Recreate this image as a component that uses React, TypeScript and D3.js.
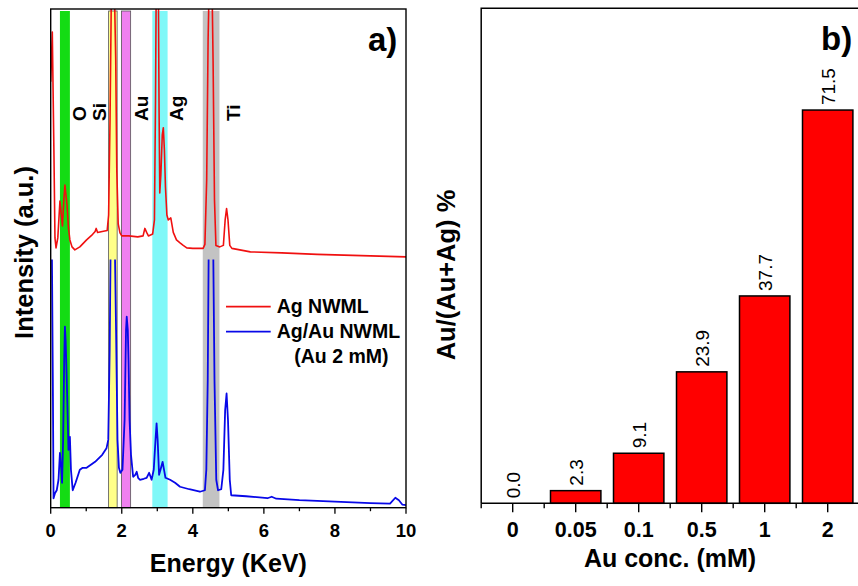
import React from "react";
import * as d3 from "d3";

// ---------- Panel a) EDS spectra (energy keV, intensity a.u.) ----------
const agSpectrum: [number, number][] = [
  [0.0, 85.4], [0.045, 95.4], [0.09, 71.7], [0.12, 54.1], [0.15, 52.1], [0.2, 54.1],
  [0.26, 61.5], [0.3, 58.7], [0.33, 56.5], [0.37, 61.7], [0.4, 64.7], [0.43, 62.7],
  [0.46, 60.7], [0.5, 56.1], [0.54, 53.7], [0.6, 52.3], [0.68, 51.7], [0.82, 52.3],
  [1.01, 53.7], [1.15, 54.6], [1.25, 55.4], [1.28, 56.0], [1.32, 55.2], [1.45, 55.4],
  [1.59, 55.6], [1.63, 58.7], [1.67, 77.7], [1.71, 105], [1.79, 105], [1.83, 89.8],
  [1.86, 67.7], [1.9, 56.9], [1.95, 55.1], [2.0, 54.5], [2.2, 54.5], [2.45, 54.3],
  [2.6, 54.5], [2.65, 56.0], [2.7, 55.2], [2.75, 54.5], [2.87, 54.9], [2.92, 57.7],
  [2.95, 81.7], [2.97, 105], [3.03, 105], [3.05, 79.7], [3.07, 63.1], [3.1, 66.7],
  [3.14, 74.7], [3.17, 76.2], [3.2, 71.7], [3.23, 64.3], [3.27, 58.7], [3.31, 57.7],
  [3.38, 58.1], [3.45, 55.2], [3.54, 53.7], [3.64, 53.1], [3.73, 52.6], [3.83, 52.1],
  [4.0, 52.0], [4.29, 52.0], [4.34, 52.8], [4.39, 65.7], [4.43, 93.8], [4.46, 105],
  [4.54, 105], [4.57, 89.8], [4.61, 61.7], [4.65, 52.6], [4.76, 52.3], [4.86, 52.6],
  [4.91, 57.7], [4.95, 60.0], [4.99, 57.7], [5.04, 52.6], [5.1, 52.0], [5.62, 51.3],
  [6.5, 51.1], [7.5, 50.8], [8.5, 50.6], [10.0, 50.3],
];

const agAuSpectrum: [number, number][] = [
  [0.0, 55], [0.03, 55], [0.06, 25.6], [0.08, 1.9], [0.12, 2.9], [0.17, 3.5],
  [0.22, 5.6], [0.26, 11.0], [0.3, 7.6], [0.32, 5.0], [0.35, 13.6], [0.38, 29.6],
  [0.4, 36.3], [0.42, 33.6], [0.45, 26.3], [0.48, 17.6], [0.5, 11.6], [0.52, 13.6],
  [0.54, 14.2], [0.57, 7.6], [0.62, 3.5], [0.7, 5.0], [0.82, 7.6], [0.9, 8.0],
  [1.01, 8.0], [1.25, 9.2], [1.45, 10.6], [1.57, 11.9], [1.62, 13.6], [1.66, 31.6],
  [1.69, 55], [1.8, 55], [1.84, 35.6], [1.88, 13.6], [1.92, 8.0], [1.96, 7.0],
  [2.02, 7.6], [2.08, 17.6], [2.12, 35.6], [2.14, 38.3], [2.17, 35.6], [2.19, 29.6],
  [2.22, 17.6], [2.26, 10.6], [2.32, 6.2], [2.38, 6.6], [2.42, 7.2], [2.46, 6.0],
  [2.51, 5.6], [2.62, 5.8], [2.7, 6.0], [2.77, 7.0], [2.84, 5.6], [2.9, 7.6],
  [2.95, 13.6], [2.98, 16.9], [3.01, 13.6], [3.05, 6.6], [3.09, 7.6], [3.15, 9.2],
  [3.19, 7.6], [3.23, 6.0], [3.36, 5.6], [3.5, 5.0], [3.64, 4.2], [3.9, 3.7],
  [4.2, 3.2], [4.34, 3.5], [4.38, 7.6], [4.42, 25.6], [4.45, 55], [4.57, 55],
  [4.61, 25.6], [4.66, 5.6], [4.71, 3.5], [4.8, 3.7], [4.86, 7.6], [4.91, 19.6],
  [4.95, 22.9], [4.99, 17.6], [5.04, 5.6], [5.08, 2.5], [5.5, 2.3], [6.1, 1.9],
  [6.22, 2.2], [6.35, 1.8], [7.0, 1.5], [8.0, 1.2], [9.0, 0.9], [9.55, 0.8],
  [9.7, 2.0], [9.8, 1.5], [9.9, 0.6], [10.0, 0.5],
];

const bandNames = ["O", "Si", "Au", "Ag", "Ti"];
const bandStart = [0.26, 1.63, 1.99, 2.86, 4.28];
const bandEnd = [0.54, 1.87, 2.25, 3.29, 4.75];
const bandColors = ["#14dc14", "#ffff88", "#f080f0", "#80f8f8", "#c3c3c3"];
const bandOutlined = [false, true, true, false, false];

const elementLabels = ["O", "Si", "Au", "Ag", "Ti"];
// energy at which each rotated label's baseline sits
const elementLabelEnergy = [0.993, 1.556, 2.745, 3.736, 5.325];

const legendLabels = ["Ag NWML", "Ag/Au NWML"];

// ---------- Panel b) bar chart ----------
const concCategories = ["0", "0.05", "0.1", "0.5", "1", "2"];
const auFraction = [0.0, 2.3, 9.1, 23.9, 37.7, 71.5];

const FONT = "'Liberation Sans', Arial, Helvetica, sans-serif";
const RED = "#f01010";
const BLUE = "#0808e8";

export default function App() {
  // panel a scales
  const xE = d3.scaleLinear().domain([0, 10]).range([50.7, 406]);
  const yI = d3.scaleLinear().domain([0, 100]).range([507.7, 9]);
  const line = d3
    .line<[number, number]>()
    .x((d) => xE(d[0]))
    .y((d) => yI(d[1]));
  const ticksE = d3.range(0, 11, 1);

  // panel b scales
  const xB = d3
    .scaleBand<string>()
    .domain(concCategories)
    .range([481.2, 859.2])
    .paddingInner(0.2)
    .paddingOuter(0.1);
  const yB = d3.scaleLinear().domain([0, 90]).range([503.3, 8.3]);
  const step = xB.step();
  const x0B = 481.2;

  const aTop = yI(100);
  const aBot = yI(0);
  const aL = xE(0);
  const aR = xE(10);
  const blueClipTop = 259.5;

  return (
    <svg
      width={858}
      height={586}
      viewBox="0 0 858 586"
      style={{ position: "absolute", left: 0, top: 0, display: "block", background: "#fff" }}
      fontFamily={FONT}
    >
      <defs>
        <clipPath id="clipA">
          <rect x={aL} y={aTop} width={aR - aL} height={aBot - aTop} />
        </clipPath>
        <clipPath id="clipBlue">
          <rect x={aL} y={blueClipTop} width={aR - aL} height={aBot - blueClipTop} />
        </clipPath>
      </defs>

      {/* ---------- Panel a ---------- */}
      {bandNames.map((n, i) => (
        <rect
          key={n}
          x={xE(bandStart[i])}
          y={11}
          width={xE(bandEnd[i]) - xE(bandStart[i])}
          height={aBot - 11}
          fill={bandColors[i]}
          stroke={bandOutlined[i] ? "#555" : "none"}
          strokeWidth={0.8}
        />
      ))}

      <path
        d={line(agSpectrum) || ""}
        fill="none"
        stroke={RED}
        strokeWidth={1.6}
        strokeLinejoin="round"
        clipPath="url(#clipA)"
      />
      <path
        d={line(agAuSpectrum) || ""}
        fill="none"
        stroke={BLUE}
        strokeWidth={1.8}
        strokeLinejoin="round"
        clipPath="url(#clipBlue)"
      />

      {elementLabels.map((t, i) => (
        <text
          key={t}
          transform={`translate(${xE(elementLabelEnergy[i])},121) rotate(-90)`}
          fontSize={19}
          fontWeight="bold"
          fill="#000"
        >
          {t}
        </text>
      ))}

      {/* frame a */}
      <rect x={aL} y={aTop} width={aR - aL} height={aBot - aTop} fill="none" stroke="#000" strokeWidth={1.4} />
      {ticksE.map((t) => (
        <line
          key={t}
          x1={xE(t)}
          x2={xE(t)}
          y1={aBot}
          y2={aBot + (t % 2 === 0 ? 6 : 3.5)}
          stroke="#000"
          strokeWidth={1.3}
        />
      ))}
      {ticksE
        .filter((t) => t % 2 === 0)
        .map((t) => (
          <text key={t} x={xE(t)} y={537.3} textAnchor="middle" fontSize={18.5} fontWeight="bold">
            {t}
          </text>
        ))}
      <text x={(aL + aR) / 2} y={571.5} textAnchor="middle" fontSize={25} fontWeight="bold">
        Energy (KeV)
      </text>
      <text
        transform="translate(33,252.5) rotate(-90)"
        textAnchor="middle"
        fontSize={25.5}
        fontWeight="bold"
      >
        Intensity (a.u.)
      </text>
      <text x={368} y={51} fontSize={33} fontWeight="bold">
        a)
      </text>

      {/* legend */}
      {legendLabels.map((l, i) => (
        <g key={l}>
          <line
            x1={226}
            x2={270.7}
            y1={306.7 + i * 25}
            y2={306.7 + i * 25}
            stroke={i === 0 ? RED : BLUE}
            strokeWidth={1.8}
          />
          <text x={276.7} y={313.3 + i * 25} fontSize={19.5} fontWeight="bold">
            {l}
          </text>
        </g>
      ))}
      <text x={294.3} y={363.3} fontSize={19.5} fontWeight="bold">
        (Au 2 mM)
      </text>

      {/* ---------- Panel b ---------- */}
      {concCategories.map((c, i) => (
        <rect
          key={c}
          x={xB(c)}
          y={yB(auFraction[i])}
          width={xB.bandwidth()}
          height={yB(0) - yB(auFraction[i])}
          fill="#ff0000"
          stroke="#000"
          strokeWidth={1.5}
        />
      ))}
      {concCategories.map((c, i) => (
        <text
          key={c}
          transform={`translate(${(xB(c) as number) + xB.bandwidth() / 2 + 7},${yB(auFraction[i]) - 5}) rotate(-90)`}
          fontSize={19}
        >
          {auFraction[i].toFixed(1)}
        </text>
      ))}
      {/* frame b */}
      <polyline
        points={`${x0B},${yB(0)} ${x0B},${yB(90)} ${x0B + 6 * step},${yB(90)} ${x0B + 6 * step},${yB(0)}`}
        fill="none"
        stroke="#000"
        strokeWidth={1.5}
      />
      <line x1={x0B} x2={x0B + 6 * step} y1={yB(0)} y2={yB(0)} stroke="#000" strokeWidth={1.5} />
      {concCategories.map((c) => (
        <line
          key={c}
          x1={(xB(c) as number) + xB.bandwidth() / 2}
          x2={(xB(c) as number) + xB.bandwidth() / 2}
          y1={yB(0)}
          y2={yB(0) + 9}
          stroke="#000"
          strokeWidth={1.4}
        />
      ))}
      {d3.range(0, 7).map((i) => (
        <line
          key={i}
          x1={x0B + i * step}
          x2={x0B + i * step}
          y1={yB(0)}
          y2={yB(0) + 5}
          stroke="#000"
          strokeWidth={1.4}
        />
      ))}
      {concCategories.map((c) => (
        <text
          key={c}
          x={(xB(c) as number) + xB.bandwidth() / 2}
          y={536.7}
          textAnchor="middle"
          fontSize={21.5}
          fontWeight="bold"
        >
          {c}
        </text>
      ))}
      <text x={670} y={566.7} textAnchor="middle" fontSize={25} fontWeight="bold">
        Au conc. (mM)
      </text>
      <text transform="translate(455,275) rotate(-90)" textAnchor="middle" fontSize={25.5} fontWeight="bold">
        Au/(Au+Ag) %
      </text>
      <text x={821} y={50} fontSize={33} fontWeight="bold">
        b)
      </text>
    </svg>
  );
}
